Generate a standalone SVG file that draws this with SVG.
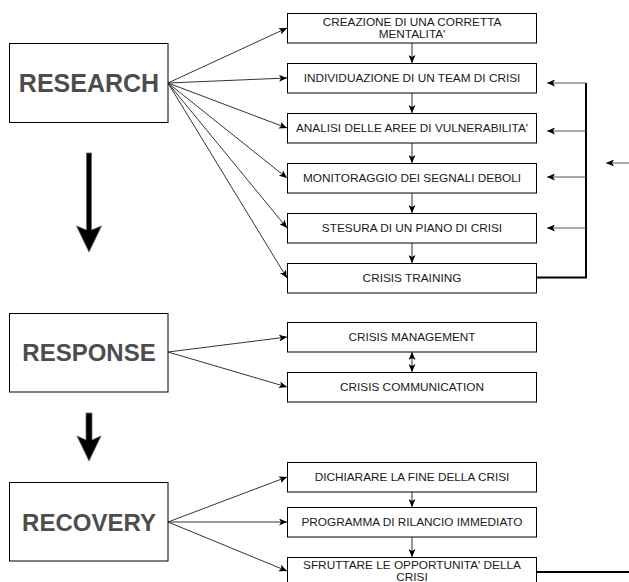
<svg xmlns="http://www.w3.org/2000/svg" width="629" height="582" viewBox="0 0 629 582">
<style>
.box{fill:#fff;stroke:#000;stroke-width:1}
.hdr{font-family:"Liberation Sans",Arial,sans-serif;font-weight:bold;font-size:24px;fill:#4d4d4d;text-anchor:middle}
.lbl{font-family:"Liberation Sans",Arial,sans-serif;font-size:11.8px;fill:#1a1a1a;text-anchor:middle}
.ln{fill:none;stroke:#333;stroke-width:1}
.fb{fill:none;stroke:#555;stroke-width:1}
.thick{fill:none;stroke:#000;stroke-width:2}
.big{fill:#000;stroke:#666;stroke-width:0.8}
</style>
<defs>
<marker id="ah" viewBox="0 0 8 7" refX="8" refY="3.5" markerWidth="8" markerHeight="7" markerUnits="userSpaceOnUse" orient="auto-start-reverse">
<path d="M0,0 L8,3.5 L0,7 L2,3.5 Z" fill="#000"/>
</marker>
</defs>
<rect width="629" height="582" fill="#fff"/>

<g id="connectors">
<line class="ln" x1="168" y1="83" x2="287" y2="28" marker-end="url(#ah)"/>
<line class="ln" x1="168" y1="83" x2="287" y2="78" marker-end="url(#ah)"/>
<line class="ln" x1="168" y1="83" x2="287" y2="128" marker-end="url(#ah)"/>
<line class="ln" x1="168" y1="83" x2="287" y2="178" marker-end="url(#ah)"/>
<line class="ln" x1="168" y1="83" x2="287" y2="228" marker-end="url(#ah)"/>
<line class="ln" x1="168" y1="83" x2="287" y2="278" marker-end="url(#ah)"/>
<line class="ln" x1="412" y1="43" x2="412" y2="63" marker-end="url(#ah)"/>
<line class="ln" x1="412" y1="93" x2="412" y2="113" marker-end="url(#ah)"/>
<line class="ln" x1="412" y1="143" x2="412" y2="163" marker-end="url(#ah)"/>
<line class="ln" x1="412" y1="193" x2="412" y2="213" marker-end="url(#ah)"/>
<line class="ln" x1="412" y1="243" x2="412" y2="263" marker-end="url(#ah)"/>
<polyline class="thick" points="537,277.5 586,277.5 586,83"/>
<line class="fb" x1="586" y1="83" x2="547" y2="83" marker-end="url(#ah)"/>
<line class="fb" x1="586" y1="131" x2="547" y2="131" marker-end="url(#ah)"/>
<line class="fb" x1="586" y1="177" x2="547" y2="177" marker-end="url(#ah)"/>
<line class="fb" x1="586" y1="228" x2="547" y2="228" marker-end="url(#ah)"/>
<line class="fb" x1="629" y1="163" x2="606" y2="163" marker-end="url(#ah)"/>
<line class="ln" x1="168" y1="352" x2="287" y2="337" marker-end="url(#ah)"/>
<line class="ln" x1="168" y1="352" x2="287" y2="387" marker-end="url(#ah)"/>
<line class="ln" x1="412" y1="352" x2="412" y2="372" marker-start="url(#ah)" marker-end="url(#ah)"/>
<line class="ln" x1="168" y1="522" x2="287" y2="477" marker-end="url(#ah)"/>
<line class="ln" x1="168" y1="522" x2="287" y2="522" marker-end="url(#ah)"/>
<line class="ln" x1="168" y1="522" x2="287" y2="571" marker-end="url(#ah)"/>
<line class="ln" x1="412" y1="492" x2="412" y2="507" marker-end="url(#ah)"/>
<line class="ln" x1="412" y1="537" x2="412" y2="557" marker-end="url(#ah)"/>
<line class="thick" x1="537" y1="572" x2="629" y2="572"/>
<path class="big" d="M86.5,153 L91.5,153 L91.5,230 L101.5,226 L89,252 L76.5,226 L86.5,230 Z"/>
<path class="big" d="M86,413 L92,413 L92,440 L101,436 L89,461 L77,436 L86,440 Z"/>
</g>

<g id="research">
<rect class="box" x="9.5" y="43.5" width="158.5" height="79"/>
<text class="hdr" x="89" y="92" style="font-size:25px">RESEARCH</text>
</g>
<g id="response">
<rect class="box" x="9.5" y="313.5" width="158.5" height="78.5"/>
<text class="hdr" x="89" y="361">RESPONSE</text>
</g>
<g id="recovery">
<rect class="box" x="9.5" y="482.5" width="158.5" height="78.5"/>
<text class="hdr" x="89" y="531">RECOVERY</text>
</g>

<g id="n1">
<rect class="box" x="287.5" y="13.5" width="249" height="29.5"/>
<text class="lbl" x="412" y="25.5">CREAZIONE DI UNA CORRETTA</text>
<text class="lbl" x="412" y="38">MENTALITA'</text>
</g>
<g id="n2">
<rect class="box" x="287.5" y="63.5" width="249" height="29.5"/>
<text class="lbl" x="412" y="82">INDIVIDUAZIONE DI UN TEAM DI CRISI</text>
</g>
<g id="n3">
<rect class="box" x="287.5" y="113.5" width="249" height="29.5"/>
<text class="lbl" x="412" y="132">ANALISI DELLE AREE DI VULNERABILITA'</text>
</g>
<g id="n4">
<rect class="box" x="287.5" y="163.5" width="249" height="29.5"/>
<text class="lbl" x="412" y="182">MONITORAGGIO DEI SEGNALI DEBOLI</text>
</g>
<g id="n5">
<rect class="box" x="287.5" y="213.5" width="249" height="29.5"/>
<text class="lbl" x="412" y="232">STESURA DI UN PIANO DI CRISI</text>
</g>
<g id="n6">
<rect class="box" x="287.5" y="263.5" width="249" height="29.5"/>
<text class="lbl" x="412" y="282">CRISIS TRAINING</text>
</g>
<g id="n7">
<rect class="box" x="287.5" y="322.5" width="249" height="29.5"/>
<text class="lbl" x="412" y="341">CRISIS MANAGEMENT</text>
</g>
<g id="n8">
<rect class="box" x="287.5" y="372.5" width="249" height="29.5"/>
<text class="lbl" x="412" y="391">CRISIS COMMUNICATION</text>
</g>
<g id="n9">
<rect class="box" x="287.5" y="462.5" width="249" height="29.5"/>
<text class="lbl" x="412" y="481">DICHIARARE LA FINE DELLA CRISI</text>
</g>
<g id="n10">
<rect class="box" x="287.5" y="507.5" width="249" height="29.5"/>
<text class="lbl" x="412" y="526">PROGRAMMA DI RILANCIO IMMEDIATO</text>
</g>
<g id="n11">
<rect class="box" x="287.5" y="557.5" width="249" height="29.5"/>
<text class="lbl" x="412" y="568.5">SFRUTTARE LE OPPORTUNITA' DELLA</text>
<text class="lbl" x="412" y="581">CRISI</text>
</g>
</svg>
